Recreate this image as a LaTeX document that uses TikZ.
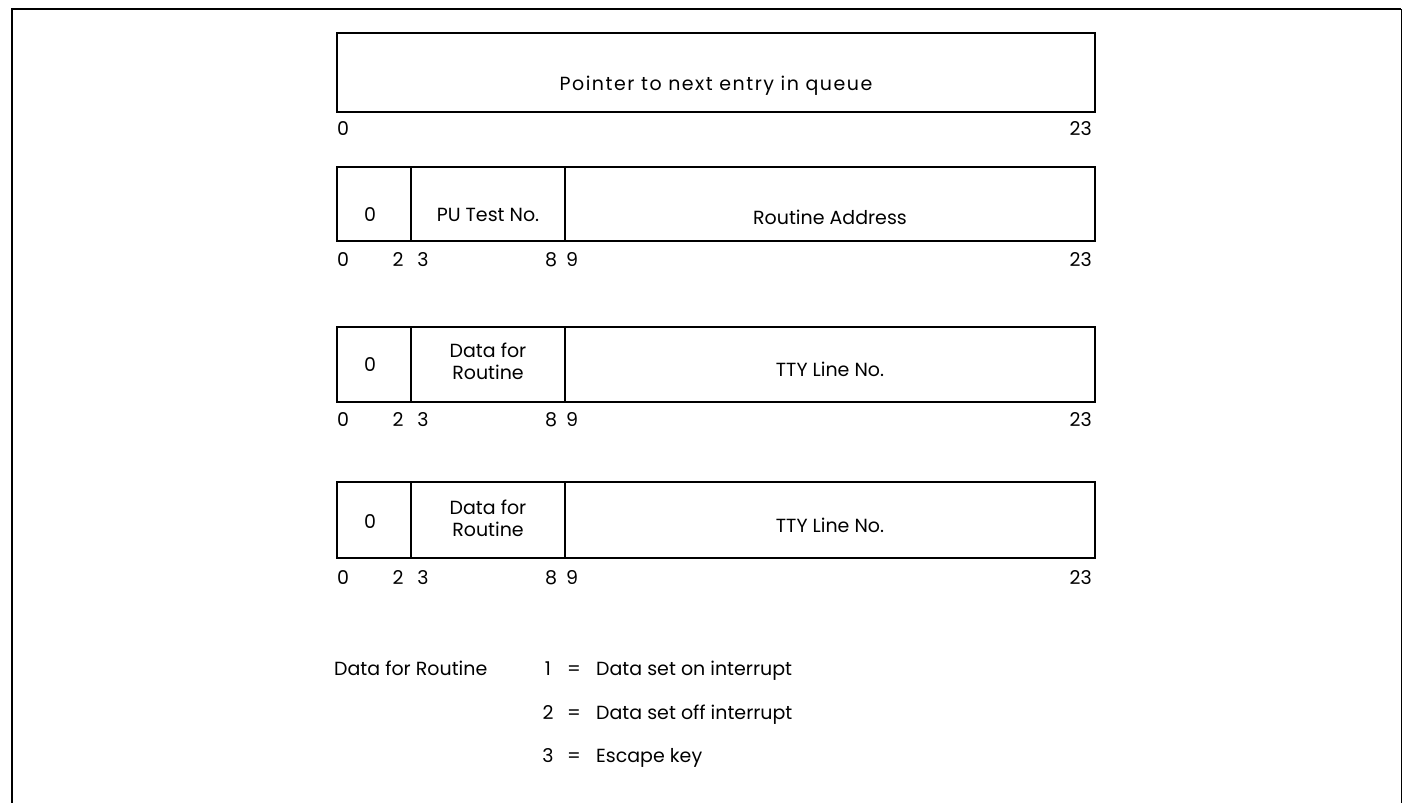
\documentclass[tikz,border=0pt]{standalone}
\usepackage{fontspec}
\setmainfont{Poppins}
\begin{document}
\begin{tikzpicture}[x=1pt,y=-1pt,
  wordbox/.style={draw,line width=2.2pt,inner sep=0pt},
  divider/.style={line width=1.2pt},
  txt/.style={font=\fontsize{19}{22}\selectfont,inner sep=0pt,align=center},
  bitno/.style={font=\fontsize{19}{22}\selectfont,inner sep=0pt}]
\useasboundingbox (0,0) rectangle (1403,803);
% outer frame
\draw[line width=2.6pt] (12,803) -- (12,9) -- (1401,9);
\draw[line width=1pt] (1401,9) -- (1401,803);

% word 1
\draw[wordbox] (337,33) rectangle (1095,112);
\node[txt] (ptr) at (716,86) {\addfontfeature{LetterSpace=8}Pointer to next entry in queue};
\node[bitno,anchor=west] (a0) at (337,129) {0};
\node[bitno,anchor=east] (a23) at (1092,129) {23};

% word 2
\draw[wordbox] (337,167) rectangle (1095,241);
\draw[divider] (411,167) -- (411,241);
\draw[divider] (565,167) -- (565,241);
\node[txt] (b0) at (370,215) {0};
\node[txt] (bpu) at (488,215) {PU Test No.};
\node[txt] (bra) at (830,217) {Routine Address};
\node[bitno,anchor=west] (bl0) at (337,260) {0};
\node[bitno] (bl2) at (398,260) {2};
\node[bitno] (bl3) at (423,260) {3};
\node[bitno] (bl8) at (551,260) {8};
\node[bitno] (bl9) at (572,260) {9};
\node[bitno,anchor=east] (bl23) at (1092,260) {23};

% word 3
\draw[wordbox] (337,327) rectangle (1095,402);
\draw[divider] (411,327) -- (411,402);
\draw[divider] (565,327) -- (565,402);
\node[txt] (c0) at (370,365) {0};
\node[txt] (cdr) at (488,361) {Data for\\Routine};
\node[txt] (ctty) at (830,369) {TTY Line No.};
\node[bitno,anchor=west] (cl0) at (337,420) {0};
\node[bitno] (cl2) at (398,420) {2};
\node[bitno] (cl3) at (423,420) {3};
\node[bitno] (cl8) at (551,420) {8};
\node[bitno] (cl9) at (572,420) {9};
\node[bitno,anchor=east] (cl23) at (1092,420) {23};

% word 4
\draw[wordbox] (337,482) rectangle (1095,558);
\draw[divider] (411,482) -- (411,558);
\draw[divider] (565,482) -- (565,558);
\node[txt] (d0) at (370,522) {0};
\node[txt] (ddr) at (488,518) {Data for\\Routine};
\node[txt] (dtty) at (830,525) {TTY Line No.};
\node[bitno,anchor=west] (dl0) at (337,578) {0};
\node[bitno] (dl2) at (398,578) {2};
\node[bitno] (dl3) at (423,578) {3};
\node[bitno] (dl8) at (551,578) {8};
\node[bitno] (dl9) at (572,578) {9};
\node[bitno,anchor=east] (dl23) at (1092,578) {23};

% legend
\node[bitno,anchor=base west] (leg) at (334,675) {Data for Routine};
\node[bitno,anchor=base] (n1) at (548,675) {1};
\node[bitno,anchor=base] (e1) at (574,675) {=};
\node[bitno,anchor=base west] (t1) at (596,675) {Data set on interrupt};
\node[bitno,anchor=base] (n2) at (548,719) {2};
\node[bitno,anchor=base] (e2) at (574,719) {=};
\node[bitno,anchor=base west] (t2) at (596,719) {Data set off interrupt};
\node[bitno,anchor=base] (n3) at (548,762) {3};
\node[bitno,anchor=base] (e3) at (574,762) {=};
\node[bitno,anchor=base west] (t3) at (596,762) {Escape key};
\end{tikzpicture}
\end{document}
